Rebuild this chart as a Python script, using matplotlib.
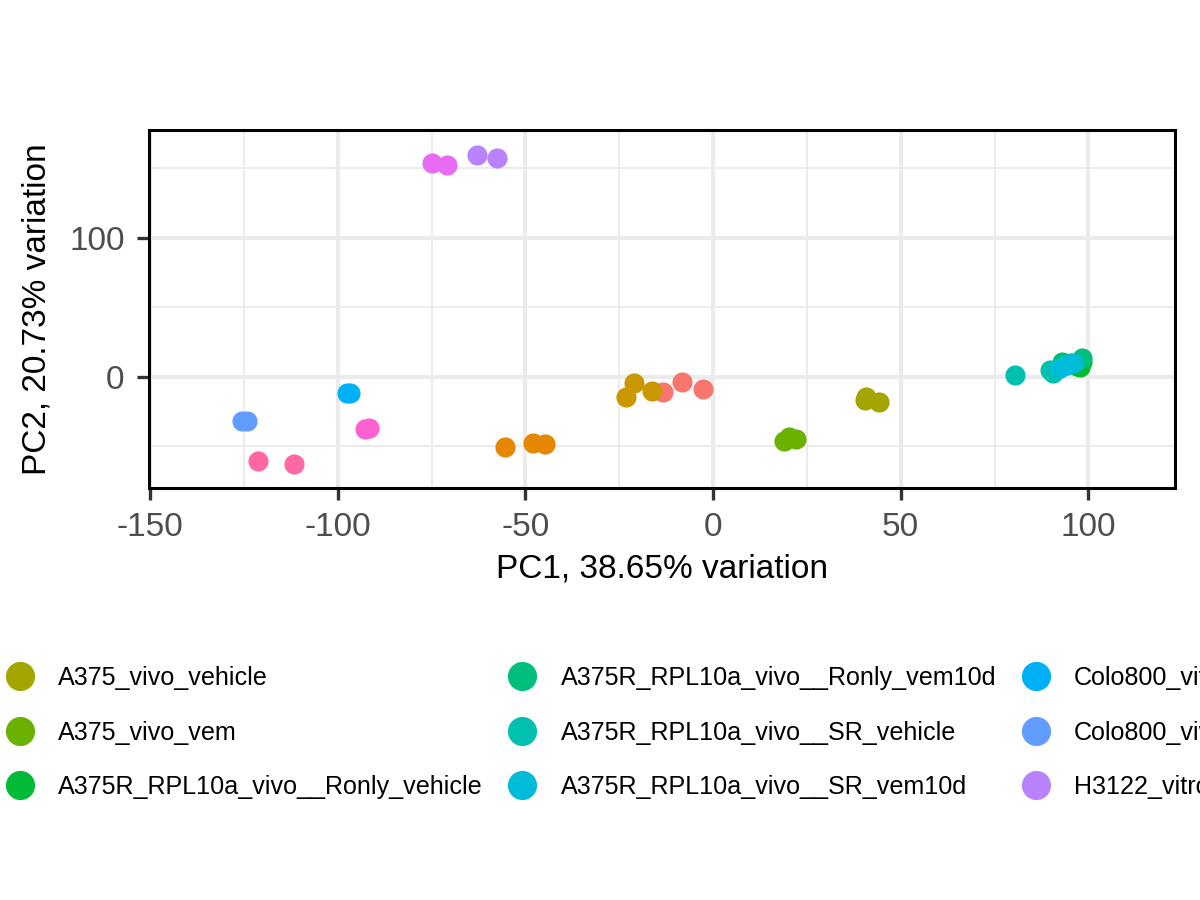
"""
PCA biplot of samples (PC1 vs PC2), coloured by sample group, ggplot-like look.
"""
import matplotlib
matplotlib.use('Agg')
import matplotlib.pyplot as plt
from matplotlib.lines import Line2D
from matplotlib.ticker import MultipleLocator

plt.rcParams['font.family'] = ['Liberation Sans', 'DejaVu Sans']
plt.rcParams['axes.unicode_minus'] = False

# groups in legend order, with ggplot hue colours
groups = ['A375_vitro_vehicle', 'A375_vitro_vem', 'A375_vitro_vem10d',
          'A375_vivo_vehicle', 'A375_vivo_vem', 'A375R_RPL10a_vivo__Ronly_vehicle',
          'A375R_RPL10a_vivo__Ronly_vem10d', 'A375R_RPL10a_vivo__SR_vehicle',
          'A375R_RPL10a_vivo__SR_vem10d',
          'Colo800_vitro_vehicle', 'Colo800_vivo_vehicle', 'H3122_vitro_alectinib',
          'H3122_vitro_vehicle', 'PC9_vitro_osimertinib', 'PC9_vitro_vehicle']
colors = ['#F8766D', '#E58700', '#C99800', '#A3A500', '#6BB100', '#00BA38',
          '#00BF7D', '#00C0AF', '#00BCD8', '#00B0F6', '#619CFF', '#B983FF',
          '#E76BF3', '#FD61D1', '#FF67A4']

# one entry per sample: group index, PC1, PC2
sample_group = [0, 0, 0,
                1, 1, 1,
                2, 2, 2,
                3, 3, 3,
                4, 4, 4,
                5, 5, 5,
                6, 6, 6,
                7, 7, 7,
                8, 8, 8,
                9, 9,
                10, 10,
                11, 11,
                12, 12,
                13, 13,
                14, 14]
pc1 = [-13.4, -8.3, -2.7,
       -55.5, -48.0, -44.9,
       -21.0, -23.2, -16.3,
       40.5, 40.8, 44.3,
       18.9, 20.1, 22.1,
       97.8, 98.3, 97.0,
       92.9, 98.2, 95.0,
       80.4, 89.8, 90.6,
       92.4, 94.2, 96.0,
       -97.6, -96.7,
       -125.5, -124.2,
       -62.9, -57.5,
       -74.9, -70.9,
       -92.7, -91.7,
       -121.3, -111.8]
pc2 = [-10.6, -3.4, -8.6,
       -50.1, -47.8, -48.2,
       -4.6, -14.2, -10.1,
       -16.5, -14.2, -17.8,
       -45.8, -43.5, -44.8,
       7.2, 10.8, 8.0,
       11.0, 13.4, 10.0,
       1.4, 5.0, 2.7,
       6.2, 8.6, 9.8,
       -11.7, -11.7,
       -31.4, -31.4,
       159.7, 157.6,
       154.0, 152.5,
       -37.4, -36.5,
       -60.4, -62.6]

x_label = 'PC1, 38.65% variation'
y_label = 'PC2, 20.73% variation'


def main():
    fig = plt.figure(figsize=(12, 9), dpi=100)
    ax = fig.add_axes([0.1242, 0.4578, 0.8550, 0.3978])

    for g in range(len(groups)):
        xs = [x for x, k in zip(pc1, sample_group) if k == g]
        ys = [y for y, k in zip(pc2, sample_group) if k == g]
        ax.scatter(xs, ys, s=210, color=colors[g], linewidths=0, zorder=3)

    ax.set_xlim(-150.3, 123.1)
    ax.set_ylim(-79.9, 177.7)
    ax.xaxis.set_major_locator(MultipleLocator(50))
    ax.xaxis.set_minor_locator(MultipleLocator(25))
    ax.yaxis.set_major_locator(MultipleLocator(100))
    ax.yaxis.set_minor_locator(MultipleLocator(50))
    ax.grid(which='major', color='#EBEBEB', linewidth=2.9, zorder=0)
    ax.grid(which='minor', color='#EBEBEB', linewidth=1.4, zorder=0)
    ax.set_axisbelow(True)
    for side in ax.spines.values():
        side.set_linewidth(2.2)
        side.set_color('black')
    ax.tick_params(which='major', length=8.6, width=2.4, color='#333333',
                   labelsize=24, labelcolor='#4D4D4D', pad=9)
    ax.tick_params(which='minor', length=0)
    ax.set_xlabel(x_label, fontsize=24, labelpad=7)
    ax.set_ylabel(y_label, fontsize=24, labelpad=12)

    handles = [Line2D([], [], marker='o', linestyle='', markersize=21,
                      markerfacecolor=c, markeredgewidth=0) for c in colors]
    leg = fig.legend(handles, groups, loc='center', bbox_to_anchor=(0.5, 0.186),
                     ncol=5, frameon=False, fontsize=18.1, handlelength=1.2,
                     handletextpad=0.92, columnspacing=0.98, labelspacing=1.22,
                     borderaxespad=0)

    # line up the first visible legend column with the reference position
    fig.canvas.draw()
    x0 = leg.get_texts()[3].get_window_extent().x0
    leg.set_bbox_to_anchor((0.5 + (58 - x0) / 1200, 0.186), transform=fig.transFigure)

    fig.savefig('out.png', dpi=100)


if __name__ == '__main__':
    main()
